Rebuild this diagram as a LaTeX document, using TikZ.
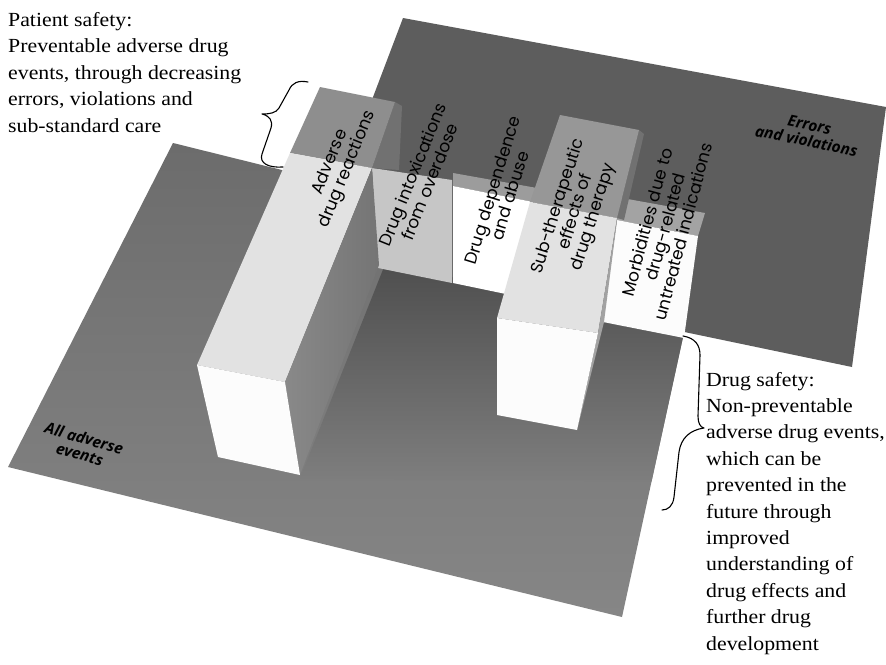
\documentclass[tikz,border=0pt]{standalone}
\usepackage{fontspec}
\setmainfont{Liberation Serif}[FakeStretch=1.09]
\newfontfamily\labelfont{Poppins}
\newfontfamily\planefont{Open Sans}
\definecolor{floorgray}{HTML}{7E7E7E}
\definecolor{floortop}{HTML}{6C6C6C}
\definecolor{floorlow}{HTML}{868686}
\definecolor{shadowgray}{HTML}{4E4E4E}
\definecolor{wallgray}{HTML}{5D5D5D}
\definecolor{capgray}{HTML}{8E8E8E}
\definecolor{bandgray}{HTML}{717171}
\definecolor{lightface}{HTML}{E2E2E2}
\definecolor{endface}{HTML}{FCFCFC}
\definecolor{sidegray}{HTML}{898989}
\definecolor{intoxgray}{HTML}{C6C6C6}
\definecolor{stripgray}{HTML}{9C9C9C}
\definecolor{subcap}{HTML}{979797}
\definecolor{subside}{HTML}{A2A2A2}
\definecolor{morbstrip}{HTML}{A3A3A3}
\tikzset{
  boxlabel/.style={font=\labelfont\fontsize{17}{18.5}\selectfont, align=center, inner sep=0pt},
  planelabel/.style={font=\planefont\bfseries\itshape\fontsize{15.5}{16.5}\selectfont, align=center, inner sep=0pt},
  note/.style={font=\fontsize{20}{26.4}\selectfont, align=left, inner sep=0pt, anchor=base west},
  brace/.style={draw=black, line width=1.1pt, line cap=round, line join=round}
}
\begin{document}
\begin{tikzpicture}[x=1pt,y=-1pt]
\useasboundingbox (0,0) rectangle (886,664);
\fill[white] (0,0) rectangle (886,664);

% floor: all adverse events
\shade[top color=floortop, bottom color=floorlow]
  (173,143) -- (697,273) -- (622,617) -- (8,467) -- cycle;

% raised plane: errors and violations
\fill[wallgray] (403,18) -- (886,107) -- (852,367) -- (378,268) -- (315,250) -- cycle;

% shadow on the floor between the blocks, kept inside the floor
\begin{scope}
  \clip (173,143) -- (697,273) -- (622,617) -- (8,467) -- cycle;
  \shade[top color=shadowgray, bottom color=floorgray]
    (386,262) -- (700,334) -- (680,482) -- (300,478) -- cycle;
\end{scope}

% drug intoxications block
\fill[intoxgray] (372,168) -- (452,180) -- (452,283) -- (378,268) -- cycle;

% drug dependence block
\fill[stripgray] (453,173) -- (537,188) -- (533,202) -- (453,186) -- cycle;
\fill[white] (453,186) -- (533,202) -- (525,298) -- (453,283) -- cycle;

% morbidities block
\fill[morbstrip] (622,198) -- (705,213) -- (698,236) -- (617,220) -- cycle;
\fill[endface] (617,220) -- (698,236) -- (684,338) -- (603,322) -- cycle;

% sub-therapeutic block
\fill[bandgray] (639,130) -- (644,134) -- (624,220) -- (617,218) -- cycle;
\fill[subcap] (560,115) -- (639,130) -- (617,218) -- (530,202) -- cycle;
\fill[lightface] (530,202) -- (617,218) -- (598,333) -- (497,318) -- cycle;
\fill[subside] (617,218) -- (598,333) -- (577,430) -- (604,322) -- (617,221) -- cycle;
\fill[endface] (497,318) -- (598,333) -- (577,430) -- (497,415) -- cycle;

% adverse drug reactions block
\fill[bandgray] (395,102) -- (402,106) -- (399,170) -- (372,168) -- cycle;
\fill[capgray] (320,87) -- (395,102) -- (372,168) -- (290,153) -- cycle;
\fill[lightface] (290,153) -- (372,168) -- (285,382) -- (197,365) -- cycle;
\shade[left color=sidegray, right color=sidegray!85!black]
  (372,168) -- (379,265) -- (300,475) -- (285,382) -- cycle;
\fill[endface] (197,365) -- (285,382) -- (300,475) -- (218,457) -- cycle;

% block labels
\node[boxlabel, rotate=68] (adr) at (339,166) {Adverse\\drug reactions};
\node[boxlabel, rotate=68] (intox) at (421,178) {Drug intoxications\\from overdose};
\node[boxlabel, rotate=73] (dep) at (501,193) {Drug dependence\\and abuse};
\node[boxlabel, rotate=72.5] (sub) at (576,212) {Sub-therapeutic\\effects of\\drug therapy};
\node[boxlabel, rotate=75] (morb) at (665,227) {Morbidities due to\\drug-related\\untreated indications};

% plane labels
\node[planelabel, rotate=-15.5] (all) at (82,446) {All adverse\\events};
\node[planelabel, rotate=-11.5] (err) at (808,133) {Errors\\and violations};

% annotations (anchored at the baseline of their last line)
\node[note] (patient) at (8,132) {Patient safety:\\Preventable adverse drug\\events, through decreasing\\errors, violations and\\sub-standard care};
\node[note] (drug) at (706,650) {Drug safety:\\Non-preventable\\adverse drug events,\\which can be\\prevented in the\\future through\\improved\\understanding of\\drug effects and\\further drug\\development};

% braces
\draw[brace] (308,82) .. controls (298,80) and (292,83) .. (289,90) -- (279,108)
  .. controls (276,113) and (270,114) .. (262,114)
  .. controls (270,116) and (273,121) .. (271,128) -- (262,154)
  .. controls (259,163) and (268,168) .. (283,167);
\draw[brace] (683,336) .. controls (695,338) and (700,345) .. (700,355) -- (698,416)
  .. controls (698,423) and (700,427) .. (704,428)
  .. controls (690,430) and (681,438) .. (679,452) -- (674,497)
  .. controls (673,506) and (668,510) .. (662,510);
\end{tikzpicture}
\end{document}
